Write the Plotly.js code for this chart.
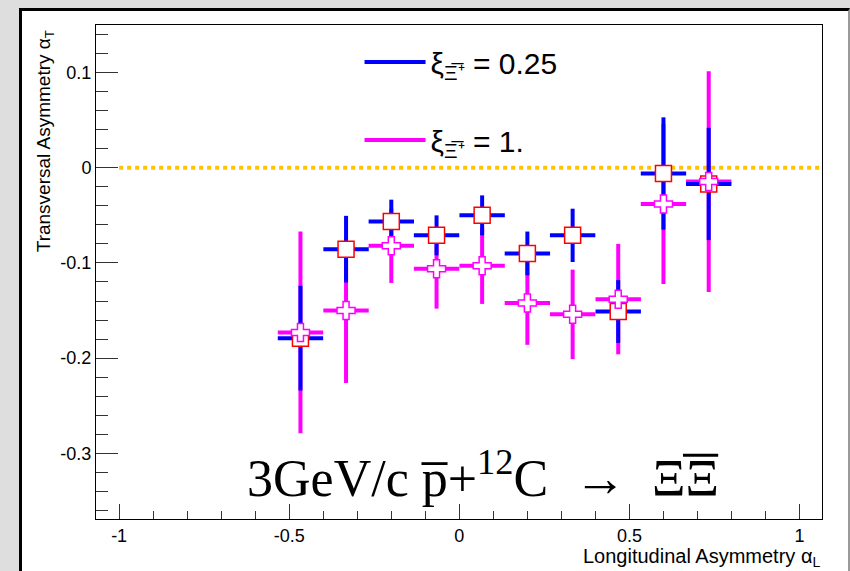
<!DOCTYPE html>
<html>
<head>
<meta charset="utf-8">
<script src="https://cdn.plot.ly/plotly-3.0.1.min.js"></script>
<style>
  html, body { margin: 0; padding: 0; width: 850px; height: 571px; overflow: hidden; background: #dedede; }
  #frame { position: absolute; left: 19px; top: 8px; width: 826px; height: 600px; background: #ffffff;
           border-top: 3px solid #000; border-left: 3px solid #000; border-right: 2px solid #9a9a9a; }
  #chart { position: absolute; left: 0; top: 0; width: 850px; height: 571px; }
</style>
</head>
<body>
<div id="frame"></div>
<div id="chart"></div>
<script>
// ---- data ----
const alphaL = [-0.467, -0.333, -0.2, -0.067, 0.067, 0.2, 0.333, 0.467, 0.6, 0.733];
const alphaLErr = [0.0667, 0.0667, 0.0667, 0.0667, 0.0667, 0.0667, 0.0667, 0.0667, 0.0667, 0.0667];

// xi = 0.25 (blue)
const alphaT_xi025 = [-0.179, -0.0855, -0.0565, -0.071, -0.050, -0.090, -0.071, -0.151, -0.006, -0.017];
const alphaTErr_xi025 = [0.055, 0.035, 0.023, 0.021, 0.021, 0.023, 0.028, 0.033, 0.059, 0.059];

// xi = 1 (magenta)
const alphaT_xi1 = [-0.173, -0.150, -0.082, -0.106, -0.103, -0.142, -0.154, -0.138, -0.038, -0.0145];
const alphaTErr_xi1 = [0.106, 0.076, 0.039, 0.042, 0.040, 0.044, 0.047, 0.058, 0.084, 0.116];

const seriesNames = ['\u03BE<sub>\u039E\u0305\u207A</sub> = 0.25', '\u03BE<sub>\u039E\u0305\u207A</sub> = 1.'];

const refLineX = [-1, 1.066];
const refLineY = [0, 0];

const xTickVals = [-1, -0.5, 0, 0.5, 1];
const xTickLabels = ['-1', '-0.5', '0', '0.5', '1'];
const yTickVals = [-0.3, -0.2, -0.1, 0, 0.1];
const yTickLabels = ['-0.3', '-0.2', '-0.1', '0', '0.1'];

// ---- styling ----
const BLUE = '#0000ff';
const MAGENTA = '#ff00ff';
const RED = '#ff0000';
const ORANGE = '#ffc200';
const SANS = 'Liberation Sans, Arial, sans-serif';
const SERIF = 'Liberation Serif, Times New Roman, serif';

const clear = 'rgba(0,0,0,0)';

const traces = [
  { // reference line at alpha_T = 0
    x: refLineX, y: refLineY, mode: 'lines', showlegend: false, hoverinfo: 'skip',
    line: { color: ORANGE, width: 4, dash: 'dot' }
  },
  { // xi = 1 error bars
    x: alphaL, y: alphaT_xi1, mode: 'markers', showlegend: false,
    marker: { color: clear, size: 1 },
    error_x: { type: 'data', array: alphaLErr, color: MAGENTA, thickness: 4, width: 0 },
    error_y: { type: 'data', array: alphaTErr_xi1, color: MAGENTA, thickness: 4, width: 0 }
  },
  { // xi = 0.25 error bars
    x: alphaL, y: alphaT_xi025, mode: 'markers', showlegend: false,
    marker: { color: clear, size: 1 },
    error_x: { type: 'data', array: alphaLErr, color: BLUE, thickness: 4, width: 0 },
    error_y: { type: 'data', array: alphaTErr_xi025, color: BLUE, thickness: 4, width: 0 }
  },
  { // xi = 0.25 markers
    x: alphaL, y: alphaT_xi025, mode: 'markers', showlegend: false,
    marker: { symbol: 'square', size: 16, color: '#ffffff', line: { color: RED, width: 1.5 } }
  },
  { // xi = 1 markers
    x: alphaL, y: alphaT_xi1, mode: 'markers', showlegend: false,
    marker: { symbol: 'cross', size: 15, color: '#ffffff', line: { color: MAGENTA, width: 1.5 } }
  },
  { // legend entries
    x: [null], y: [null], mode: 'lines', name: seriesNames[0], legend: 'legend',
    line: { color: BLUE, width: 4 }
  },
  {
    x: [null], y: [null], mode: 'lines', name: seriesNames[1], legend: 'legend2',
    line: { color: MAGENTA, width: 4 }
  }
];

const legendCommon = {
  xanchor: 'left', yanchor: 'middle', bgcolor: clear, borderwidth: 0,
  font: { family: SANS, size: 30, color: '#000' }, itemwidth: 61
};

const layout = {
  width: 850, height: 571,
  margin: { l: 96, r: 28, t: 25, b: 52 },
  paper_bgcolor: clear, plot_bgcolor: clear,
  showlegend: true,
  legend: Object.assign({ x: 0.363, y: 0.925 }, legendCommon),
  legend2: Object.assign({ x: 0.363, y: 0.767 }, legendCommon),
  xaxis: {
    range: [-1.068, 1.066], showgrid: false, zeroline: false,
    showline: true, linecolor: '#000', linewidth: 1, mirror: true,
    ticks: 'inside', ticklen: 15, tickcolor: '#333', tickwidth: 1,
    tickvals: xTickVals, ticktext: xTickLabels,
    minor: { dtick: 0.1, tick0: 0, ticks: 'inside', ticklen: 8, tickcolor: '#333', tickwidth: 1 },
    tickfont: { family: SANS, size: 18, color: '#000' }
  },
  yaxis: {
    range: [-0.369, 0.150], showgrid: false, zeroline: false,
    showline: true, linecolor: '#000', linewidth: 1, mirror: true,
    ticks: 'inside', ticklen: 22, tickcolor: '#333', tickwidth: 1,
    tickvals: yTickVals, ticktext: yTickLabels,
    minor: { dtick: 0.02, tick0: 0, ticks: 'inside', ticklen: 12, tickcolor: '#333', tickwidth: 1 },
    tickfont: { family: SANS, size: 18, color: '#000' }
  },
  shapes: [
    { // overline of the anti-Xi in the reaction label
      type: 'line', xref: 'paper', yref: 'paper', x0: 0.8085, x1: 0.857, y0: 0.129, y1: 0.129,
      line: { color: '#000', width: 3 }
    }
  ],
  annotations: [
    { xref: 'paper', yref: 'paper', x: -0.07, y: 0.765, xanchor: 'center', yanchor: 'middle',
      textangle: -90, showarrow: false, text: 'Transversal Asymmetry \u03B1<sub>T</sub>',
      font: { family: SANS, size: 19, color: '#000' } },
    { xref: 'paper', yref: 'paper', x: 1.0, y: -0.077, xanchor: 'right', yanchor: 'middle',
      showarrow: false, text: 'Longitudinal Asymmetry \u03B1<sub>L</sub>',
      font: { family: SANS, size: 20, color: '#000' } },
    { xref: 'paper', yref: 'paper', x: 0.533, y: 0.09, xanchor: 'center', yanchor: 'middle',
      showarrow: false,
      text: '3GeV/c p\u0305+<sup>12</sup>C \u00A0\u2192\u00A0 \u039E\u039E',
      font: { family: SERIF, size: 52, color: '#000' } }
  ]
};

Plotly.newPlot('chart', traces, layout, { displayModeBar: false, staticPlot: true });
</script>
</body>
</html>
